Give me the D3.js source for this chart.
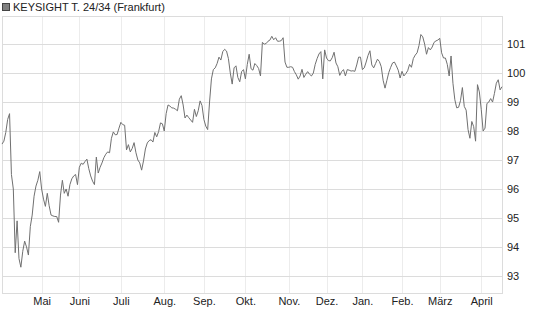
<!DOCTYPE html>
<html>
<head>
<meta charset="utf-8">
<script src="https://cdn.jsdelivr.net/npm/d3@7"></script>
<style>
  body { margin: 0; background: #fff; }
  text { font-family: "Liberation Sans", Arial, sans-serif; font-size: 11px; fill: #222; }
</style>
</head>
<body>
<div id="chart"></div>
<script>
// daily closing prices, one per trading day (Apr 2024 - Apr 2025)
const prices = [
  97.55, 97.65, 97.95, 98.4, 98.6, 96.5, 96.0, 93.8, 94.9, 93.6,
  93.3, 93.85, 94.2, 94.0, 93.72, 94.7, 95.1, 95.75, 96.1, 96.3,
  96.6, 96.0, 95.65, 95.4, 95.85, 95.42, 95.1, 95.07, 95.05, 95.05,
  94.85, 95.79, 96.3, 95.85, 96.0, 95.75, 96.15, 96.35, 96.45, 96.5,
  96.15, 96.75, 96.89, 96.85, 96.95,
  97.03, 96.7, 96.45, 96.27, 96.15, 97.1, 96.55, 96.75, 96.9, 97.08,
  97.2, 97.28, 97.25, 97.75, 97.97, 97.87, 97.88, 98.1, 98.3, 98.22,
  98.2, 97.35, 97.53, 97.28, 97.4, 97.6, 97.25, 97.0, 96.9, 96.65,
  96.97, 97.38, 97.59, 97.67, 97.7, 97.62, 97.95, 97.8, 97.98, 98.28,
  98.25, 98.0, 98.6, 98.9,
  98.86, 98.8, 98.79, 98.75, 98.7, 99.1, 99.22, 98.9, 98.45, 98.55,
  98.46, 98.38, 98.3, 98.75, 98.5, 98.7, 99.04, 98.88, 98.4, 98.17,
  98.05, 99.0, 99.8, 100.12, 100.18, 100.33, 100.55, 100.45, 100.74, 100.82,
  100.76, 100.5, 100.0, 99.62, 100.18, 100.25, 99.85, 99.7, 100.05, 100.12,
  99.8, 100.3, 100.65, 100.15, 100.1,
  100.33, 100.26, 100.16, 99.9, 101.06, 101.0, 101.02, 101.1, 101.14, 101.27,
  101.15, 101.22, 101.1, 101.1, 101.12, 101.22, 100.38, 100.2, 100.2, 100.22,
  100.2, 100.05, 99.94, 99.79, 99.9, 100.13, 99.85, 99.96, 100.05, 99.96,
  99.9, 100.0, 100.3, 100.5, 100.66, 100.74, 99.8, 100.8, 100.52, 100.43,
  100.42, 100.53, 100.72, 100.35, 100.22,
  99.92, 100.05, 100.12, 99.9, 100.12, 100.1, 100.07, 100.08, 100.06, 100.28,
  100.55, 100.55, 100.12, 100.18, 100.38, 100.61, 100.77, 100.28, 100.18, 100.33,
  100.48, 100.4, 100.22, 99.75, 99.48, 99.75, 100.02, 100.2, 100.35, 100.38,
  100.25, 100.1, 99.83, 100.06, 99.9, 99.98, 100.08, 100.3, 100.2, 100.5,
  100.62, 100.7, 100.95, 101.33,
  101.25, 101.0, 100.65, 100.88, 100.8, 100.9, 101.06, 101.11, 101.14, 101.2,
  100.7, 100.52, 100.52, 100.3, 99.9, 100.59, 99.65, 99.08, 98.8, 98.82,
  99.05, 99.5, 98.85, 98.72, 98.05, 97.75, 98.33, 98.15, 97.65, 99.6,
  99.35, 98.75, 98.0, 98.1, 98.95, 99.0, 99.12, 99.0, 99.3, 99.65,
  99.77, 99.42, 99.53
];

// first trading day of each month, as index into prices
const monthLabels = ["Mai", "Juni", "Juli", "Aug.", "Sep.", "Okt.", "Nov.", "Dez.", "Jan.", "Feb.", "März", "April"];
const monthIndex = [21, 41, 63, 86, 107, 129, 152, 172, 191, 212, 232, 254];

const yTicks = [93, 94, 95, 96, 97, 98, 99, 100, 101];
const title = "KEYSIGHT T. 24/34 (Frankfurt)";

const W = 545, H = 327;
const margin = { top: 16, right: 42, bottom: 34, left: 2 };

const svg = d3.select("#chart")
    .append("svg")
    .attr("width", W)
    .attr("height", H);

const x = d3.scaleLinear()
    .domain([0, prices.length - 1])
    .range([margin.left, W - margin.right - 1]);

const y = d3.scaleLinear()
    .domain([92.41, 101.97])
    .range([H - margin.bottom, margin.top]);

// vertical grid (months)
svg.append("g")
    .selectAll("line")
    .data(monthIndex)
    .join("line")
    .attr("x1", d => Math.round(x(d)) + 0.5)
    .attr("x2", d => Math.round(x(d)) + 0.5)
    .attr("y1", margin.top)
    .attr("y2", H - margin.bottom)
    .attr("stroke", "#ececec");

// horizontal grid
svg.append("g")
    .selectAll("line")
    .data(yTicks)
    .join("line")
    .attr("x1", margin.left)
    .attr("x2", W - margin.right)
    .attr("y1", d => Math.round(y(d)) + 0.5)
    .attr("y2", d => Math.round(y(d)) + 0.5)
    .attr("stroke", "#dcdcdc");

// frame
svg.append("rect")
    .attr("x", margin.left + 0.5)
    .attr("y", margin.top + 0.5)
    .attr("width", W - margin.left - margin.right - 1)
    .attr("height", H - margin.top - margin.bottom)
    .attr("fill", "none")
    .attr("stroke", "#dcdcdc");

// price line
svg.append("path")
    .datum(prices)
    .attr("fill", "none")
    .attr("stroke", "#707070")
    .attr("stroke-width", 1)
    .attr("d", d3.line()
        .x((d, i) => x(i))
        .y(d => y(d)));

// right axis
svg.append("g")
    .attr("transform", `translate(${W - margin.right}, 0)`)
    .call(d3.axisRight(y).tickValues(yTicks).tickSize(0).tickPadding(4).tickFormat(d3.format("d")))
    .call(g => g.select(".domain").remove())
    .selectAll("text")
    .style("font-family", "Liberation Sans, Arial, sans-serif")
    .style("font-size", "11px")
    .attr("fill", "#222");

// bottom axis
svg.append("g")
    .attr("transform", `translate(0, ${H - margin.bottom})`)
    .call(d3.axisBottom(x).tickValues(monthIndex).tickSize(0).tickPadding(4)
        .tickFormat((d, i) => monthLabels[i]))
    .call(g => g.select(".domain").remove())
    .selectAll("text")
    .style("font-family", "Liberation Sans, Arial, sans-serif")
    .style("font-size", "11px")
    .attr("fill", "#222");

// title with legend square
svg.append("rect")
    .attr("x", 2.5)
    .attr("y", 3.5)
    .attr("width", 7)
    .attr("height", 7)
    .attr("fill", "#808080")
    .attr("stroke", "#444");

svg.append("text")
    .attr("x", 13)
    .attr("y", 11)
    .text(title);
</script>
</body>
</html>
